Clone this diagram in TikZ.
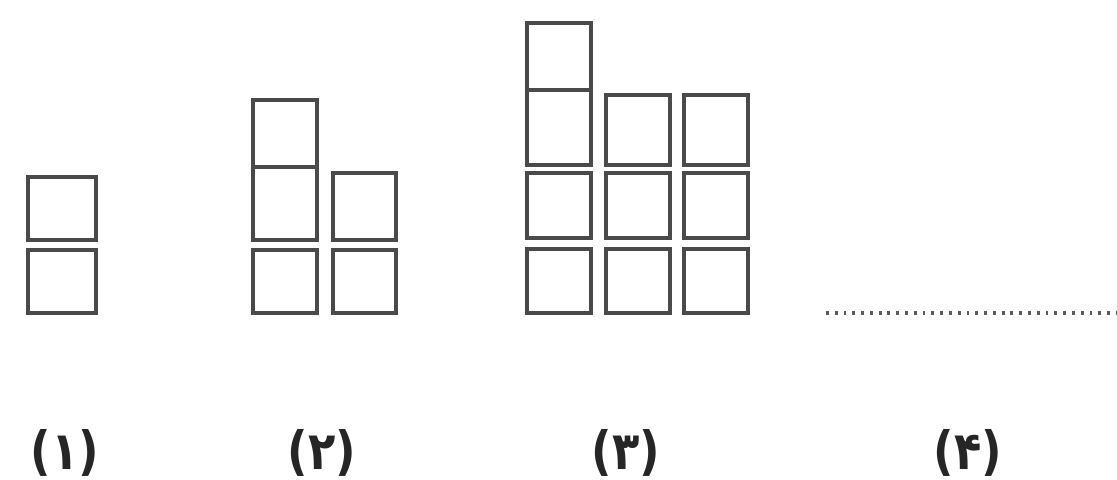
\documentclass[tikz,border=0pt]{standalone}
\usepackage{fontspec}
\newfontfamily\fadigits{DejaVu Sans}
\definecolor{tileGray}{HTML}{4A4A4A}
\definecolor{dotGray}{HTML}{5A5A5A}
\tikzset{
  fig tile/.style={draw=tileGray, line width=2.6pt},
  fig dots/.style={draw=dotGray, line width=2.6pt, dash pattern=on 1.6pt off 3.4pt},
  fig label/.style={font=\fadigits\bfseries\fontsize{30}{30}\selectfont, text=black!85, inner sep=0pt, xscale=.85},
}
\begin{document}
\begin{tikzpicture}[x=0.02cm,y=-0.02cm]
\useasboundingbox (0,0) rectangle (1117,480);
% figure 1
\foreach \ya/\yb in {177/240,250/313}{\draw[fig tile](28,\ya) rectangle (96,\yb);}
% figure 2
\foreach \ya/\yb in {100/167,167/240,250/313}{\draw[fig tile](253,\ya) rectangle (317,\yb);}
\foreach \ya/\yb in {173/240,250/313}{\draw[fig tile](333,\ya) rectangle (396,\yb);}
% figure 3
\foreach \ya/\yb in {23/90,90/165,173/238,249/313}{\draw[fig tile](527,\ya) rectangle (591,\yb);}
\foreach \xa/\xb in {606/670,684/748}{
  \foreach \ya/\yb in {95/165,173/238,249/313}{\draw[fig tile](\xa,\ya) rectangle (\xb,\yb);}}
% figure 4 is left blank
\coordinate (blank start) at (826,313);
\coordinate (blank end) at (1117,313);
\draw[fig dots](blank start)--(blank end);
\node[fig label] (label one) at (65,453) {(۱)};
\node[fig label] (label two) at (322,453) {(۲)};
\node[fig label] (label three) at (626,453) {(۳)};
\node[fig label] (label four) at (968,453) {(۴)};
\end{tikzpicture}
\end{document}
